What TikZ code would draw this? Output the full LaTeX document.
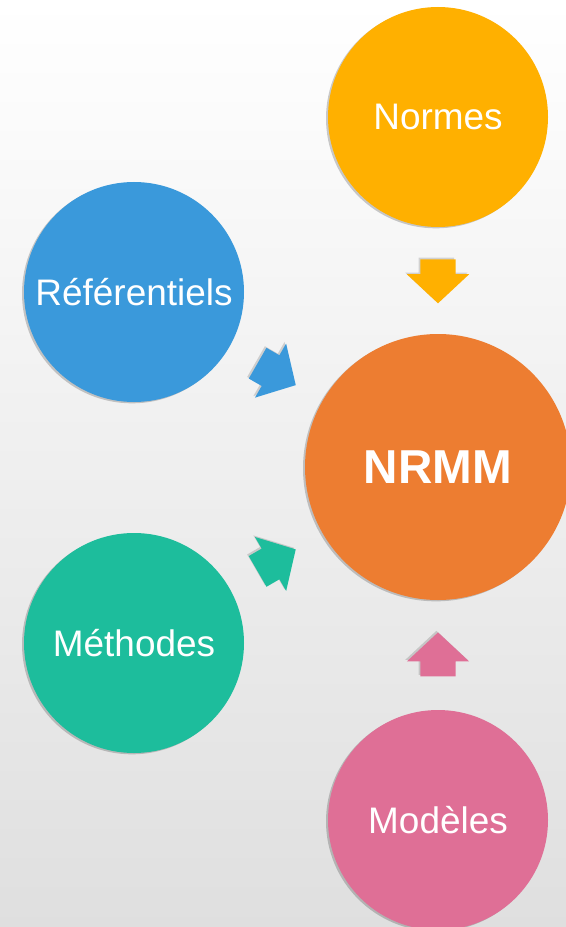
\documentclass[tikz,border=0pt]{standalone}
\usepackage{fontspec}
\setmainfont{Liberation Sans}
\usetikzlibrary{shapes.arrows,shadows}

\definecolor{normes}{HTML}{FFB000}
\definecolor{referentiels}{HTML}{3A99DB}
\definecolor{nrmm}{HTML}{ED7D31}
\definecolor{methodes}{HTML}{1DBD9C}
\definecolor{modeles}{HTML}{DF6F96}

\begin{document}
\begin{tikzpicture}[x=0.75pt, y=-0.75pt,
    bubble/.style={circle, fill=#1, text=white, minimum size=165pt,
      inner sep=0pt, font=\fontsize{27.7}{32}\selectfont,
      drop shadow={shadow xshift=-1.5pt, shadow yshift=-1pt,
        opacity=0.2, fill=black}},
    pointer/.style={single arrow, fill=#1, draw=none,
      inner xsep=0pt, inner ysep=13.1pt,
      minimum height=33pt, minimum width=46.5pt,
      single arrow head extend=10.1pt, single arrow tip angle=94,
      sloped, allow upside down, pos=0.43,
      drop shadow={shadow xshift=-1.2pt, shadow yshift=1.2pt,
        opacity=0.15, fill=black}}]
    % background
    \shade[top color=white, bottom color=gray!25] (0, 0) rectangle (566, 927);
    \useasboundingbox (0, 0) rectangle (566, 927);

    % circles
    \node[bubble=normes] (normes) at (438, 117) {Normes};
    \node[bubble=referentiels] (referentiels) at (134, 292) {Référentiels};
    \node[bubble=nrmm, minimum size=199.5pt,
      font=\fontsize{35.7}{40}\selectfont\bfseries] (nrmm) at (438, 467) {NRMM};
    \node[bubble=methodes] (methodes) at (134, 643) {Méthodes};
    \node[bubble=modeles] (modeles) at (438, 820) {Modèles};

    % arrows
    \path (normes) -- node[pointer=normes] {} (nrmm);
    \path (referentiels) -- node[pointer=referentiels] {} (nrmm);
    \path (methodes) -- node[pointer=methodes] {} (nrmm);
    \path (modeles) -- node[pointer=modeles] {} (nrmm);
\end{tikzpicture}
\end{document}
